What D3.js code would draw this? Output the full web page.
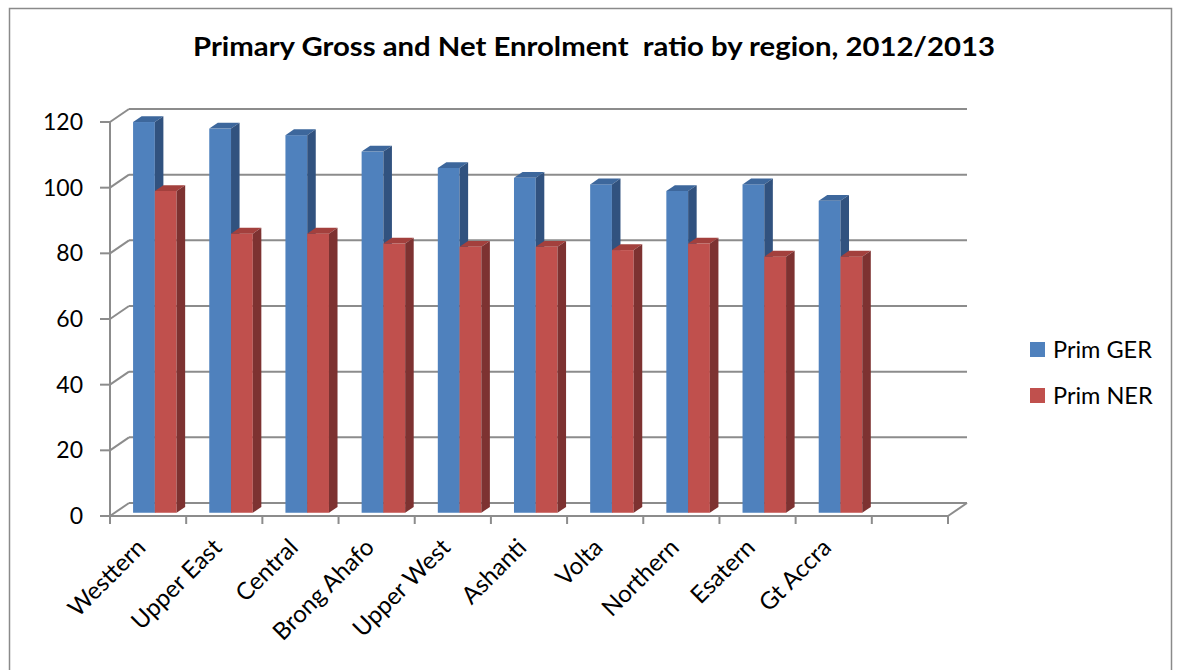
<!DOCTYPE html>
<html>
<head>
<meta charset="utf-8">
<script src="https://cdn.jsdelivr.net/npm/d3@7"></script>
<style>
  html, body { margin: 0; padding: 0; background: #fff; }
  svg { display: block; font-family: Lato, "Open Sans", sans-serif; }
</style>
</head>
<body>
<svg id="chart" width="1177" height="670"></svg>
<script>
// ---- data ----
const categories = ["Westtern", "Upper East", "Central", "Brong Ahafo", "Upper West", "Ashanti", "Volta", "Northern", "Esatern", "Gt Accra"];
const primGER = [119, 117, 115, 110, 105, 102, 100, 98, 100, 95];
const primNER = [98, 85, 85, 82, 81, 81, 80, 82, 78, 78];
const seriesNames = ["Prim GER", "Prim NER"];
const yTicks = [0, 20, 40, 60, 80, 100, 120];
const titleText = "Primary Gross and Net Enrolment  ratio by region, 2012/2013";

// ---- layout ----
const svg = d3.select("#chart");
const frontLeft = 110, frontRight = 948, frontBottom = 516, frontTop = 122;
const DX = 19, DY = 13;        // full depth offset of the back wall
const d1 = 0.25, d2 = 0.70;    // bar front / back depth fractions

const slots = categories.concat([" "]);
const x = d3.scaleBand().domain(slots).range([frontLeft, frontRight]).paddingInner(0).paddingOuter(0);
const y = d3.scaleLinear().domain([0, 120]).range([frontBottom, frontTop]);

const palette = {
  front: ["#4f81bd", "#c0504d"],
  top:   ["#3d679c", "#a3403d"],
  side:  ["#31527f", "#7d3231"]
};
const gridColor = "#8c8c8c";

// outer border
svg.append("rect").attr("x", 9.5).attr("y", 8.5).attr("width", 1162).attr("height", 700)
  .attr("fill", "#fff").attr("stroke", "#8a8a8a").attr("stroke-width", 1.5);

// title
svg.append("text").attr("x", 193).attr("y", 56)
  .attr("xml:space", "preserve").style("white-space", "pre")
  .attr("textLength", 802).attr("lengthAdjust", "spacingAndGlyphs")
  .attr("font-weight", "bold").attr("font-size", 26.5).attr("fill", "#000").text(titleText);

// ---- walls / gridlines ----
const grid = svg.append("g").attr("stroke", gridColor).attr("stroke-width", 2).attr("fill", "none");
yTicks.forEach(v => {
  grid.append("line").attr("x1", frontLeft + DX).attr("x2", frontRight + DX)
    .attr("y1", y(v) - DY).attr("y2", y(v) - DY);
  grid.append("line").attr("x1", frontLeft).attr("y1", y(v))
    .attr("x2", frontLeft + DX).attr("y2", y(v) - DY);
  grid.append("line").attr("x1", frontLeft - 10).attr("x2", frontLeft)
    .attr("y1", y(v)).attr("y2", y(v));
});
grid.append("line").attr("x1", frontLeft).attr("x2", frontLeft).attr("y1", y(120)).attr("y2", y(0));
grid.append("line").attr("x1", frontLeft).attr("x2", frontRight).attr("y1", y(0)).attr("y2", y(0));
grid.append("line").attr("x1", frontRight).attr("y1", y(0)).attr("x2", frontRight + DX).attr("y2", y(0) - DY);
slots.forEach(c => {
  grid.append("line").attr("x1", x(c)).attr("x2", x(c)).attr("y1", y(0)).attr("y2", y(0) + 8);
});
grid.append("line").attr("x1", frontRight).attr("x2", frontRight).attr("y1", y(0)).attr("y2", y(0) + 8);

// y tick labels
svg.append("g").selectAll("text").data(yTicks).join("text")
  .attr("x", 83).attr("y", d => y(d)).attr("dy", "0.35em").attr("text-anchor", "end")
  .attr("font-size", 23).attr("fill", "#000").text(d => d);

// ---- bars ----
const bw = x.bandwidth() / 3.5;            // gap width 150%
const groupOffset = (x.bandwidth() - 2 * bw) / 2 + 2;
const bars = svg.append("g");
categories.forEach((c, i) => {
  [primGER[i], primNER[i]].forEach((v, s) => {
    const xl = x(c) + groupOffset + s * bw;
    const fx = xl + DX * d1, bx = xl + DX * d2;
    const fyTop = y(v) - DY * d1, fyBot = y(0) - DY * d1;
    const byTop = y(v) - DY * d2, byBot = y(0) - DY * d2;
    bars.append("rect").attr("x", fx).attr("y", fyTop).attr("width", bw).attr("height", fyBot - fyTop)
      .attr("fill", palette.front[s]);
    bars.append("polygon").attr("points", [[fx, fyTop], [fx + bw, fyTop], [bx + bw, byTop], [bx, byTop]].map(p => p.join(",")).join(" "))
      .attr("fill", palette.top[s]);
    bars.append("polygon").attr("points", [[fx + bw, fyTop], [bx + bw, byTop], [bx + bw, byBot], [fx + bw, fyBot]].map(p => p.join(",")).join(" "))
      .attr("fill", palette.side[s]);
  });
});

// x labels
svg.append("g").selectAll("text").data(categories).join("text")
  .attr("transform", d => `translate(${x(d) + x.bandwidth() / 2 - 1},${y(0) + 33}) rotate(-45)`)
  .attr("text-anchor", "end").attr("font-size", 24).attr("fill", "#000").text(d => d);

// legend
const legend = svg.append("g");
seriesNames.forEach((name, s) => {
  const cy = 349.5 + s * 46;
  legend.append("rect").attr("x", 1030).attr("y", cy - 7.5).attr("width", 15).attr("height", 15)
    .attr("fill", palette.front[s]);
  legend.append("text").attr("x", 1053).attr("y", cy).attr("dy", "0.35em")
    .attr("font-size", 23.5).attr("fill", "#000").text(name);
});
</script>
</body>
</html>
